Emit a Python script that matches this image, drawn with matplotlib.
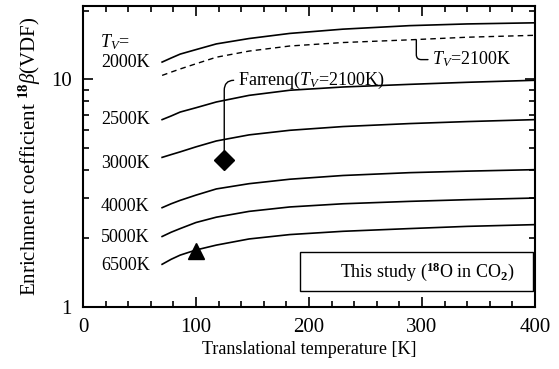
import matplotlib
matplotlib.use("Agg")
import matplotlib.pyplot as plt
from matplotlib.patches import Rectangle
from matplotlib.ticker import FixedLocator, NullFormatter, LogLocator

plt.rcParams['font.family'] = ['Liberation Serif', 'DejaVu Serif']
plt.rcParams['mathtext.fontset'] = 'custom'
plt.rcParams['mathtext.rm'] = 'Liberation Serif'
plt.rcParams['mathtext.it'] = 'Liberation Serif:italic'
plt.rcParams['mathtext.bf'] = 'Liberation Serif:bold'

# translational temperature [K]
temps = [70, 78, 86, 100, 118, 147, 183, 230, 289, 340, 400]
# enrichment coefficient for each vibrational temperature
beta_2000 = [11.9, 12.4, 12.9, 13.5, 14.3, 15.1, 15.9, 16.6, 17.2, 17.5, 17.7]
beta_2100 = [10.4, 10.75, 11.1, 11.7, 12.5, 13.3, 14.0, 14.5, 14.9, 15.3, 15.6]
beta_2500 = [6.65, 6.9, 7.18, 7.5, 7.95, 8.5, 8.95, 9.25, 9.5, 9.7, 9.9]
beta_3000 = [4.54, 4.67, 4.80, 5.05, 5.36, 5.70, 5.97, 6.2, 6.39, 6.52, 6.65]
beta_4000 = [2.73, 2.84, 2.94, 3.10, 3.30, 3.48, 3.64, 3.78, 3.89, 3.95, 4.01]
beta_5000 = [2.04, 2.13, 2.21, 2.35, 2.48, 2.63, 2.75, 2.84, 2.91, 2.96, 3.01]
beta_6500 = [1.54, 1.62, 1.69, 1.78, 1.87, 1.99, 2.08, 2.15, 2.21, 2.26, 2.30]

curve_labels = ["2000K", "2500K", "3000K", "4000K", "5000K", "6500K"]
label_y = [11.8, 6.67, 4.28, 2.75, 2.01, 1.52]

farrenq_T, farrenq_beta = 125, 4.41
tri_T, tri_beta = 100, 1.77

fig = plt.figure(figsize=(5.59, 3.69), dpi=100)
ax = fig.add_axes([0.1485, 0.168, 0.8085, 0.816])

for b in [beta_2000, beta_2500, beta_3000, beta_4000, beta_5000, beta_6500]:
    ax.plot(temps, b, color='black', lw=1.2)
ax.plot(temps, beta_2100, color='black', lw=1.0, dashes=(4, 3))

ax.plot([farrenq_T], [farrenq_beta], marker='D', color='black', ms=10, ls='none')
ax.plot([tri_T], [tri_beta], marker='^', color='black', ms=12, ls='none')

ax.set_yscale('log')
ax.set_xlim(0, 400)
ax.set_ylim(1, 21)

ax.set_xticks([0, 100, 200, 300, 400])
ax.xaxis.set_minor_locator(FixedLocator(list(range(0, 401, 20))))
ax.set_yticks([1, 10])
ax.set_yticklabels(["1", "10"])
ax.yaxis.set_minor_locator(LogLocator(base=10, subs=range(2, 10)))
ax.yaxis.set_minor_formatter(NullFormatter())
ax.tick_params(which='both', direction='in', top=True, right=True, labelsize=15, width=1.2)
ax.tick_params(which='major', length=7, pad=8)
ax.tick_params(which='minor', length=4)
for s in ax.spines.values():
    s.set_linewidth(1.5)

ax.set_xlabel("Translational temperature [K]", fontsize=13, labelpad=3)
ax.set_ylabel(r"Enrichment coefficient $^{\mathbf{18}}\mathit{\beta}$(VDF)", fontsize=15, labelpad=6)

ax.text(15, 14.6, r"$T_V$=", fontsize=13, ha='left', va='center')
for lab, y in zip(curve_labels, label_y):
    ax.text(59, y, lab, fontsize=13, ha='right', va='center')

ax.annotate(r"Farrenq($T_V$=2100K)", xy=(farrenq_T, farrenq_beta), xytext=(137, 9.9),
            fontsize=13, ha='left', va='center',
            arrowprops=dict(arrowstyle='-', color='black', lw=1.0, relpos=(0, 0.5),
                            shrinkA=1, shrinkB=7,
                            connectionstyle="angle,angleA=0,angleB=90,rad=10"))
ax.annotate(r"$T_V$=2100K", xy=(295, 14.9), xytext=(309, 12.2),
            fontsize=13, ha='left', va='center',
            arrowprops=dict(arrowstyle='-', color='black', lw=1.0, relpos=(0, 0.5),
                            shrinkA=1, shrinkB=0,
                            connectionstyle="angle,angleA=0,angleB=90,rad=5"))

ax.add_patch(Rectangle((0.48, 0.052), 0.516, 0.131, transform=ax.transAxes,
                       fill=False, edgecolor='black', lw=1.0))
ax.text(0.955, 0.118, r"This study ($^{\mathbf{18}}$O in CO$_{\mathbf{2}}$)", transform=ax.transAxes,
        fontsize=13, ha='right', va='center')

fig.savefig("out.png", dpi=100)
